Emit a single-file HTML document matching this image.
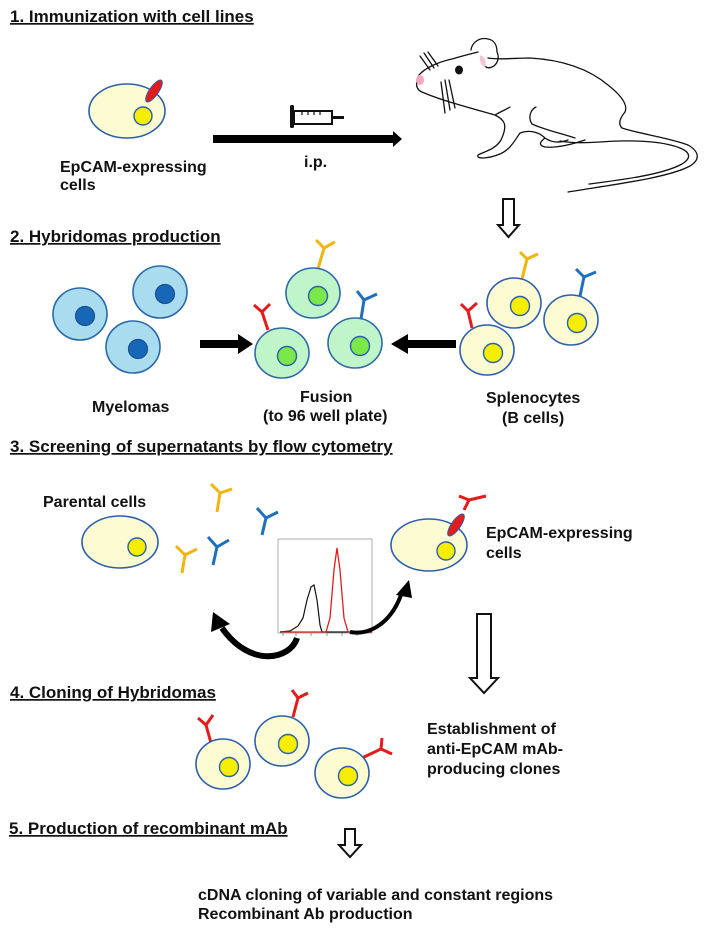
<!DOCTYPE html>
<html><head><style>
html,body{margin:0;padding:0;background:#fff;}
svg{display:block;}
text{font-family:"Liberation Sans",Arial,sans-serif;font-weight:bold;fill:#111;}
.t{font-size:17px;text-decoration:underline;}
.l{font-size:16px;}
</style></head><body>
<svg width="709" height="928" viewBox="0 0 709 928" xmlns="http://www.w3.org/2000/svg">
<defs>
<g id="ycell"><ellipse cx="0" cy="0" rx="27" ry="25" fill="#fdfbd2" stroke="#2b5fae" stroke-width="1.6"/><circle cx="6" cy="3" r="9.5" fill="#f5ee00" stroke="#2b5fae" stroke-width="1.4"/></g>
<g id="gcell"><ellipse cx="0" cy="0" rx="27" ry="25" fill="#bff5c9" stroke="#2b6aa8" stroke-width="1.6"/><circle cx="5" cy="3" r="9.5" fill="#7be84a" stroke="#2b5fae" stroke-width="1.4"/></g>
<g id="bcell"><ellipse cx="0" cy="0" rx="27" ry="26" fill="#a9dcee" stroke="#2b6aa8" stroke-width="1.6"/><circle cx="5" cy="2" r="9.5" fill="#1767b8" stroke="#1a4f90" stroke-width="1.2"/></g>
</defs>

<!-- Section 1 -->
<text x="10" y="22" class="t">1. Immunization with cell lines</text>
<ellipse cx="127" cy="111" rx="38" ry="27" fill="#fdfbd2" stroke="#2b5fae" stroke-width="1.6"/>
<circle cx="143" cy="116" r="9" fill="#f5ee00" stroke="#2b5fae" stroke-width="1.4"/>
<ellipse cx="154" cy="91" rx="4.5" ry="13" transform="rotate(35 154 91)" fill="#e41b1b" stroke="#2b5fae" stroke-width="1"/>
<text x="60" y="172" class="l">EpCAM-expressing</text>
<text x="60" y="190" class="l">cells</text>
<rect x="213" y="135" width="182" height="8" fill="#000"/>
<polygon points="393,131 402,139 393,147" fill="#000"/>
<!-- syringe -->
<rect x="290" y="105" width="4" height="23" rx="1.5" fill="#111"/>
<rect x="294" y="111" width="38" height="13" fill="#fff" stroke="#111" stroke-width="2"/>
<path d="M302 111 v4 M308 111 v4 M314 111 v4 M320 111 v4" stroke="#111" stroke-width="1.2"/>
<rect x="332" y="116" width="12" height="3" fill="#111"/>
<text x="304" y="167" class="l">i.p.</text>
<!-- mouse -->
<g fill="none" stroke="#111" stroke-width="1.3" stroke-linecap="round" stroke-linejoin="round">
<path d="M419 75 C425 68 438 62 452 59 C462 56 470 54 478 52"/>
<path d="M471 50 C472 42 480 37 488 39 C494 40 497 45 497 52 C500 58 497 65 492 67 C488 69 485 67 484 64"/>
<path d="M488 58 C500 60 515 58 530 58 C565 60 590 70 608 85 C622 96 628 105 625 112 C620 118 618 124 622 128 C640 134 670 138 688 145 C700 152 700 160 690 166 C668 178 610 185 568 192"/>
<path d="M589 184 C620 180 662 175 682 164 C692 158 690 152 680 148 C660 140 625 140 600 142 C585 143 570 143 560 141"/>
<path d="M418 78 C415 85 417 90 422 92 C440 100 470 108 495 115 C505 120 508 125 501 140 C495 150 483 152 478 155 C476 160 490 158 500 154 C510 150 515 140 520 133 C528 130 538 131 545 138 C540 142 538 145 545 147 C555 148 570 145 585 140"/>
<path d="M495 115 C500 112 505 110 510 107"/>
<path d="M536 107 C530 110 528 118 532 124 C545 130 560 133 575 138"/>
<path d="M545 138 C552 143 560 143 568 140"/>
<path d="M420 56 L430 70 M424 53 L434 68 M428 52 L438 66"/>
<path d="M441 82 L445 113 M445 80 L450 110 M449 80 L455 108"/>
</g>
<path d="M480 55 C485 57 487 62 485 68 C481 65 479 60 480 55Z" fill="#f7c4d3"/>
<ellipse cx="459" cy="70" rx="4" ry="4.5" fill="#111"/>
<ellipse cx="420" cy="80" rx="4" ry="5" fill="#f2a9c0"/>
<!-- hollow arrow -->
<path d="M503 199 h11 v26 h5 l-10.5 12 l-10.5 -12 h5 z" fill="#fff" stroke="#111" stroke-width="2"/>

<!-- Section 2 -->
<text x="10" y="242" class="t">2. Hybridomas production</text>
<use href="#bcell" x="80" y="314"/>
<use href="#bcell" x="160" y="292"/>
<use href="#bcell" x="133" y="347"/>
<text x="92" y="412" class="l">Myelomas</text>
<rect x="200" y="340" width="40" height="8" fill="#000"/>
<polygon points="238,334 253,344 238,354" fill="#000"/>
<g stroke-width="3" fill="none">
<path d="M318 269 L324 248 M324 248 L316 240 M324 248 L335 242" stroke="#f2b40e"/>
<path d="M268 330 L262 312 M262 312 L254 305 M262 312 L270 304" stroke="#e41b1b"/>
<path d="M361 319 L364 300 M364 300 L357 291 M364 300 L377 294" stroke="#1f6fc0"/>
</g>
<use href="#gcell" x="313" y="293"/>
<use href="#gcell" x="282" y="353"/>
<use href="#gcell" x="355" y="343"/>
<text x="300" y="402" class="l">Fusion</text>
<text x="263" y="421" class="l">(to 96 well plate)</text>
<rect x="406" y="340" width="50" height="8" fill="#000"/>
<polygon points="408,334 391,344 408,354" fill="#000"/>
<g stroke-width="3" fill="none">
<path d="M522 279 L527 259 M527 259 L520 252 M527 259 L538 254" stroke="#f2b40e"/>
<path d="M580 296 L584 277 M584 277 L576 269 M584 277 L596 272" stroke="#1f6fc0"/>
<path d="M472 328 L468 311 M468 311 L461 304 M468 311 L477 303" stroke="#e41b1b"/>
</g>
<use href="#ycell" x="514" y="303"/>
<use href="#ycell" x="571" y="320"/>
<use href="#ycell" x="487" y="350"/>
<text x="486" y="403" class="l">Splenocytes</text>
<text x="502" y="423" class="l">(B cells)</text>

<!-- Section 3 -->
<text x="10" y="452" class="t">3. Screening of supernatants by flow cytometry</text>
<text x="43" y="507" class="l">Parental cells</text>
<ellipse cx="120" cy="542" rx="38" ry="26" fill="#fdfbd2" stroke="#2b5fae" stroke-width="1.6"/>
<circle cx="137" cy="547" r="9" fill="#f5ee00" stroke="#2b5fae" stroke-width="1.4"/>
<g stroke="#f2b40e" stroke-width="3" fill="none">
<path d="M217 512 L220 493 L211 484 M220 493 L232 489"/>
<path d="M182 573 L185 555 L176 546 M185 555 L197 549"/>
</g>
<g stroke="#1f6fc0" stroke-width="3" fill="none">
<path d="M262 535 L266 518 L257 508 M266 518 L278 512"/>
<path d="M213 565 L217 547 L208 537 M217 547 L229 540"/>
</g>
<!-- histogram -->
<rect x="278" y="539" width="94" height="94" fill="#fff" stroke="#999" stroke-width="0.8"/>
<path d="M280 632 L290 631 L298 626 L303 618 L307 600 L311 587 L314 585 L317 600 L320 625 L322 632 L372 632" fill="none" stroke="#111" stroke-width="1.2"/>
<path d="M282 632 L326 632 L330 618 L334 570 L337 548 L340 570 L344 618 L348 632 L372 632" fill="none" stroke="#e41b1b" stroke-width="1.3"/>
<g stroke="#555" stroke-width="0.6"><path d="M283 633 v3 M296 633 v3 M311 633 v3 M327 633 v3 M342 633 v3 M357 633 v3"/></g>
<!-- curved arrows -->
<path d="M297 638 C290 660 250 668 222 628" fill="none" stroke="#000" stroke-width="6"/>
<polygon points="211,632 213,612 230,624" fill="#000"/>
<path d="M350 632 C372 636 393 620 402 592" fill="none" stroke="#000" stroke-width="4"/>
<polygon points="396,595 409,580 412,598" fill="#000"/>
<!-- EpCAM cell -->
<ellipse cx="429" cy="545" rx="38" ry="26" fill="#fdfbd2" stroke="#2b5fae" stroke-width="1.6"/>
<circle cx="446" cy="551" r="9" fill="#f5ee00" stroke="#2b5fae" stroke-width="1.4"/>
<ellipse cx="456" cy="525" rx="4.5" ry="13" transform="rotate(35 456 525)" fill="#e41b1b" stroke="#2b5fae" stroke-width="1"/>
<path d="M464 510 L469 500 L459 496 M469 500 L486 496" stroke="#e41b1b" stroke-width="3" fill="none"/>
<text x="486" y="538" class="l">EpCAM-expressing</text>
<text x="486" y="558" class="l">cells</text>
<path d="M477 614 h14 v64 h7 l-14 15 l-14 -15 h7 z" fill="#fff" stroke="#111" stroke-width="2"/>

<!-- Section 4 -->
<text x="10" y="698" class="t">4. Cloning of Hybridomas</text>
<g stroke="#e41b1b" stroke-width="3" fill="none">
<path d="M211 743 L206 725 L198 718 M206 725 L213 715"/>
<path d="M293 717 L298 698 L292 690 M298 698 L308 693"/>
<path d="M362 758 L381 749 L382 738 M381 749 L392 754"/>
</g>
<use href="#ycell" x="223" y="764"/>
<use href="#ycell" x="282" y="741"/>
<use href="#ycell" x="342" y="773"/>
<text x="427" y="734" class="l">Establishment of</text>
<text x="427" y="754" class="l">anti-EpCAM mAb-</text>
<text x="427" y="774" class="l">producing clones</text>

<!-- Section 5 -->
<text x="9" y="834" class="t">5. Production of recombinant mAb</text>
<path d="M345 829 h10 v16 h6 l-11 12 l-11 -12 h6 z" fill="#fff" stroke="#111" stroke-width="2"/>
<text x="198" y="900" class="l">cDNA cloning of  variable and constant regions</text>
<text x="198" y="919" class="l">Recombinant Ab production</text>
</svg>
</body></html>
